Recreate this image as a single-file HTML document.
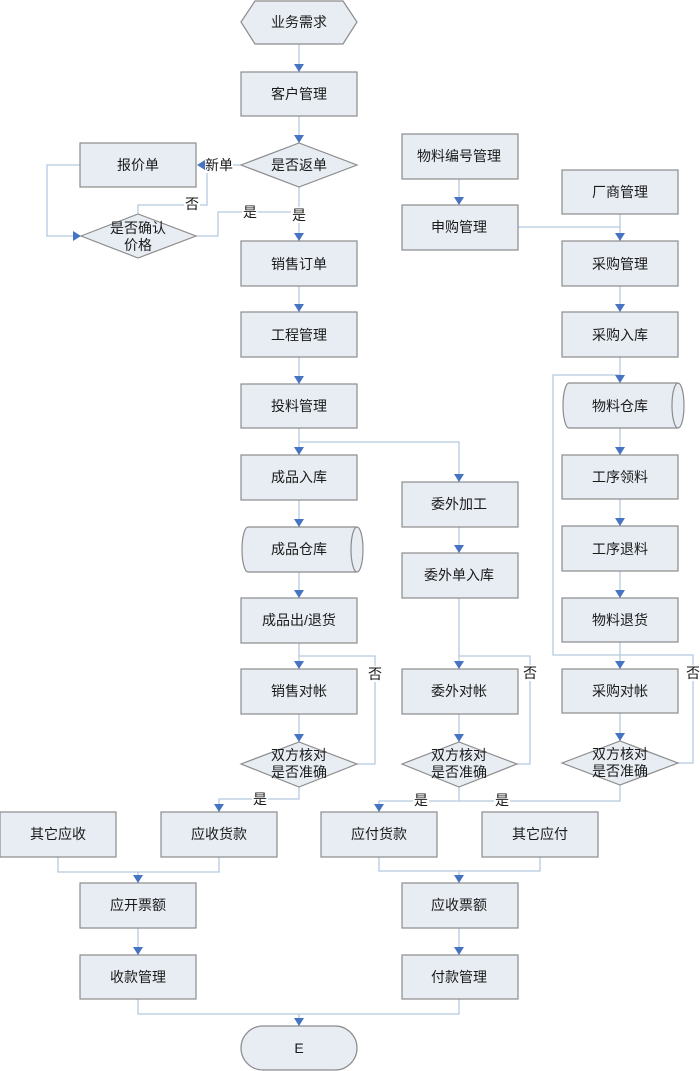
<!DOCTYPE html>
<html>
<head>
<meta charset="utf-8">
<style>
html,body{margin:0;padding:0;background:#fff;}
svg{display:block;}
text{font-family:"Liberation Sans","Noto Sans CJK SC",sans-serif;font-size:14px;fill:#1a1a1a;text-anchor:middle;dominant-baseline:central;}
.b{fill:#e7edf3;stroke:#8c8c8c;stroke-width:1.2;}
.l{fill:none;stroke:#b3cae0;stroke-width:1.3;}
.a{fill:#4673c2;}
.w{fill:#fff;}
</style>
</head>
<body>
<svg width="700" height="1071" viewBox="0 0 700 1071" xmlns="http://www.w3.org/2000/svg">
<!-- connectors -->
<g class="l">
  <!-- main column -->
  <line x1="299" y1="44" x2="299" y2="72"/>
  <line x1="299" y1="116" x2="299" y2="143"/>
  <line x1="241" y1="165" x2="206" y2="165"/>
  <polyline points="138,214 138,205 207,205 207,165"/>
  <polyline points="80,165 47,165 47,236 81,236"/>
  <polyline points="196,236 218,236 218,212 299,212"/>
  <line x1="299" y1="187" x2="299" y2="241"/>
  <line x1="299" y1="286" x2="299" y2="312"/>
  <line x1="299" y1="357" x2="299" y2="384"/>
  <line x1="299" y1="428" x2="299" y2="455"/>
  <polyline points="299,442 459,442 459,482"/>
  <line x1="299" y1="500" x2="299" y2="527"/>
  <line x1="299" y1="572" x2="299" y2="598"/>
  <line x1="299" y1="643" x2="299" y2="669"/>
  <polyline points="357,764 375,764 375,656 299,656"/>
  <line x1="299" y1="714" x2="299" y2="742"/>
  <polyline points="299,787 299,799 219,799 219,812"/>
  <!-- merge left -->
  <polyline points="58,857 58,872 219,872 219,857"/>
  <line x1="138" y1="872" x2="138" y2="883"/>
  <line x1="138" y1="928" x2="138" y2="955"/>
  <polyline points="138,999 138,1014 459,1014 459,999"/>
  <line x1="299" y1="1014" x2="299" y2="1026"/>
  <!-- R column -->
  <line x1="459" y1="179" x2="459" y2="205"/>
  <line x1="459" y1="527" x2="459" y2="553"/>
  <line x1="459" y1="598" x2="459" y2="669"/>
  <polyline points="517,764 530,764 530,656 459,656"/>
  <line x1="459" y1="714" x2="459" y2="742"/>
  <line x1="459" y1="787" x2="459" y2="801"/>
  <polyline points="379,812 379,801 620,801 620,785"/>
  <polyline points="379,857 379,871 540,871 540,857"/>
  <line x1="459" y1="871" x2="459" y2="883"/>
  <line x1="459" y1="928" x2="459" y2="955"/>
  <!-- RR column -->
  <polyline points="517,227 620,227"/>
  <line x1="620" y1="214" x2="620" y2="241"/>
  <line x1="620" y1="286" x2="620" y2="312"/>
  <line x1="620" y1="357" x2="620" y2="383"/>
  <polyline points="620,375 553,375 553,655 693,655 693,763 678,763"/>
  <line x1="620" y1="428" x2="620" y2="455"/>
  <line x1="620" y1="499" x2="620" y2="526"/>
  <line x1="620" y1="571" x2="620" y2="598"/>
  <line x1="620" y1="642" x2="620" y2="669"/>
  <line x1="620" y1="713" x2="620" y2="741"/>
</g>

<!-- shapes -->
<polygon class="b" points="241,22 255,1 343,1 357,22 343,44 255,44"/>
<rect class="b" x="241" y="72" width="116" height="44"/>
<polygon class="b" points="241,165 299,143 357,165 299,187"/>
<rect class="b" x="80" y="143" width="116" height="44"/>
<polygon class="b" points="81,236 138,214 196,236 138,258"/>
<rect class="b" x="241" y="241" width="116" height="45"/>
<rect class="b" x="241" y="312" width="116" height="45"/>
<rect class="b" x="241" y="384" width="116" height="44"/>
<rect class="b" x="241" y="455" width="116" height="45"/>
<path class="b" d="M248,527 L357,527 A6,22.5 0 0 1 357,572 L248,572 A6,22.5 0 0 1 248,527 Z"/>
<path class="b" d="M357,527 A6,22.5 0 0 0 357,572"/>
<rect class="b" x="241" y="598" width="116" height="45"/>
<rect class="b" x="241" y="669" width="116" height="45"/>
<polygon class="b" points="241,764 299,742 357,764 299,787"/>
<rect class="b" x="0" y="812" width="116" height="45"/>
<rect class="b" x="161" y="812" width="116" height="45"/>
<rect class="b" x="80" y="883" width="116" height="45"/>
<rect class="b" x="80" y="955" width="116" height="44"/>
<rect class="b" x="241" y="1026" width="116" height="44" rx="22" ry="22"/>

<rect class="b" x="402" y="134" width="116" height="45"/>
<rect class="b" x="402" y="205" width="116" height="45"/>
<rect class="b" x="402" y="482" width="116" height="45"/>
<rect class="b" x="402" y="553" width="116" height="45"/>
<rect class="b" x="402" y="669" width="116" height="45"/>
<polygon class="b" points="402,764 459,742 517,764 459,787"/>
<rect class="b" x="321" y="812" width="116" height="45"/>
<rect class="b" x="482" y="812" width="116" height="45"/>
<rect class="b" x="402" y="883" width="116" height="45"/>
<rect class="b" x="402" y="955" width="116" height="44"/>

<rect class="b" x="562" y="170" width="116" height="44"/>
<rect class="b" x="562" y="241" width="116" height="45"/>
<rect class="b" x="562" y="312" width="116" height="45"/>
<path class="b" d="M569,383 L678,383 A6,22.5 0 0 1 678,428 L569,428 A6,22.5 0 0 1 569,383 Z"/>
<path class="b" d="M678,383 A6,22.5 0 0 0 678,428"/>
<rect class="b" x="562" y="455" width="116" height="44"/>
<rect class="b" x="562" y="526" width="116" height="45"/>
<rect class="b" x="562" y="598" width="116" height="44"/>
<rect class="b" x="562" y="669" width="116" height="44"/>
<polygon class="b" points="562,763 620,741 678,763 620,785"/>

<!-- arrowheads -->
<g class="a">
  <polygon points="294,64 304,64 299,72"/>
  <polygon points="294,135 304,135 299,143"/>
  <polygon points="205,160 205,170 197,165"/>
  <polygon points="73,231 73,241 81,236"/>
  <polygon points="294,233 304,233 299,241"/>
  <polygon points="294,304 304,304 299,312"/>
  <polygon points="294,376 304,376 299,384"/>
  <polygon points="294,447 304,447 299,455"/>
  <polygon points="454,474 464,474 459,482"/>
  <polygon points="294,519 304,519 299,527"/>
  <polygon points="294,590 304,590 299,598"/>
  <polygon points="294,661 304,661 299,669"/>
  <polygon points="294,734 304,734 299,742"/>
  <polygon points="214,804 224,804 219,812"/>
  <polygon points="133,875 143,875 138,883"/>
  <polygon points="133,947 143,947 138,955"/>
  <polygon points="294,1018 304,1018 299,1026"/>
  <polygon points="454,197 464,197 459,205"/>
  <polygon points="454,545 464,545 459,553"/>
  <polygon points="454,661 464,661 459,669"/>
  <polygon points="454,734 464,734 459,742"/>
  <polygon points="374,804 384,804 379,812"/>
  <polygon points="454,875 464,875 459,883"/>
  <polygon points="454,947 464,947 459,955"/>
  <polygon points="615,233 625,233 620,241"/>
  <polygon points="615,304 625,304 620,312"/>
  <polygon points="615,375 625,375 620,383"/>
  <polygon points="615,447 625,447 620,455"/>
  <polygon points="615,518 625,518 620,526"/>
  <polygon points="615,590 625,590 620,598"/>
  <polygon points="615,661 625,661 620,669"/>
  <polygon points="615,733 625,733 620,741"/>
</g>

<!-- label backgrounds -->
<rect class="w" x="205" y="157" width="28" height="16"/>
<rect class="w" x="184" y="197" width="16" height="16"/>
<rect class="w" x="242" y="204" width="16" height="16"/>
<rect class="w" x="291" y="207" width="16" height="16"/>
<rect class="w" x="367" y="666" width="16" height="16"/>
<rect class="w" x="522" y="665" width="16" height="16"/>
<rect class="w" x="685" y="665" width="15" height="16"/>
<rect class="w" x="252" y="791" width="16" height="16"/>
<rect class="w" x="413" y="792" width="16" height="16"/>
<rect class="w" x="494" y="792" width="16" height="16"/>

<!-- text -->
<text x="299" y="22">业务需求</text>
<text x="299" y="94">客户管理</text>
<text x="299" y="165">是否返单</text>
<text x="138" y="165">报价单</text>
<text x="219" y="165">新单</text>
<text x="192" y="204">否</text>
<text x="138" y="228">是否确认</text>
<text x="138" y="245">价格</text>
<text x="250" y="212">是</text>
<text x="299" y="215">是</text>
<text x="299" y="264">销售订单</text>
<text x="299" y="335">工程管理</text>
<text x="299" y="406">投料管理</text>
<text x="299" y="477">成品入库</text>
<text x="299" y="549">成品仓库</text>
<text x="299" y="620">成品出/退货</text>
<text x="299" y="691">销售对帐</text>
<text x="375" y="674">否</text>
<text x="299" y="755">双方核对</text>
<text x="299" y="772">是否准确</text>
<text x="260" y="799">是</text>
<text x="58" y="834">其它应收</text>
<text x="219" y="834">应收货款</text>
<text x="138" y="905">应开票额</text>
<text x="138" y="977">收款管理</text>
<text x="299" y="1048">E</text>

<text x="459" y="156">物料编号管理</text>
<text x="459" y="227">申购管理</text>
<text x="459" y="504">委外加工</text>
<text x="459" y="575">委外单入库</text>
<text x="459" y="691">委外对帐</text>
<text x="530" y="673">否</text>
<text x="459" y="755">双方核对</text>
<text x="459" y="772">是否准确</text>
<text x="421" y="800">是</text>
<text x="502" y="800">是</text>
<text x="379" y="834">应付货款</text>
<text x="540" y="834">其它应付</text>
<text x="459" y="905">应收票额</text>
<text x="459" y="977">付款管理</text>

<text x="620" y="192">厂商管理</text>
<text x="620" y="264">采购管理</text>
<text x="620" y="335">采购入库</text>
<text x="620" y="406">物料仓库</text>
<text x="620" y="477">工序领料</text>
<text x="620" y="549">工序退料</text>
<text x="620" y="620">物料退货</text>
<text x="620" y="691">采购对帐</text>
<text x="693" y="673">否</text>
<text x="620" y="754">双方核对</text>
<text x="620" y="771">是否准确</text>
</svg>
</body>
</html>
